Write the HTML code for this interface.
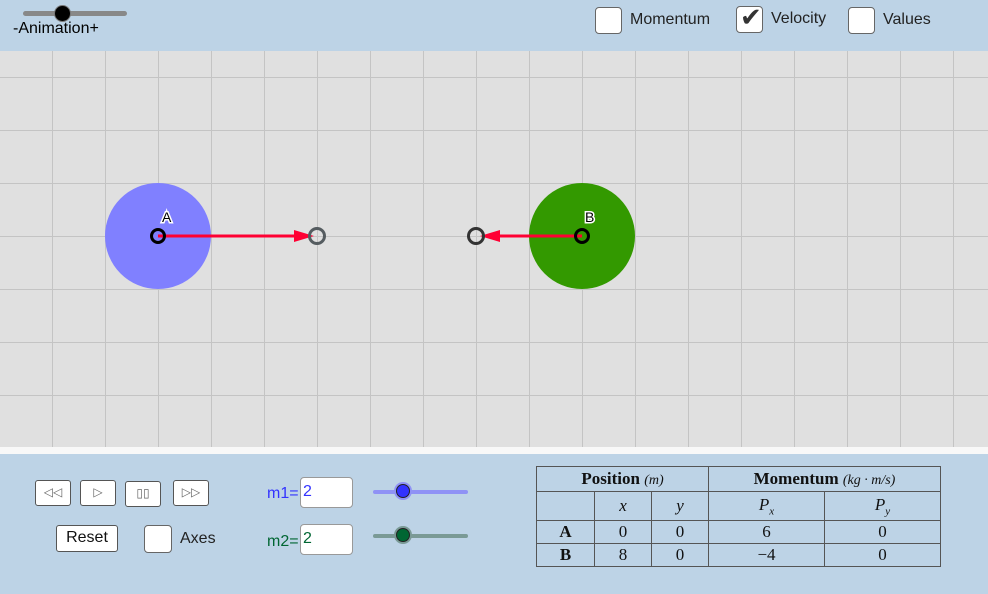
<!DOCTYPE html>
<html><head><meta charset="utf-8"><style>
body{margin:0;width:988px;height:594px;overflow:hidden;background:#bdd3e6;font-family:"Liberation Sans",sans-serif;position:relative}
.a{position:absolute}
.cb{position:absolute;width:24px;height:24px;background:#fff;border:1px solid #666;border-radius:4px;box-sizing:border-box}
.btn{position:absolute;background:#fff;border:1.5px solid #555;border-radius:3px;box-sizing:border-box;text-align:center;color:#666;font-size:12px}
.inp{position:absolute;width:53px;height:31px;background:#fff;border:1px solid #999;border-radius:4px;box-sizing:border-box;font-size:16px;padding:5px 2px}
table{position:absolute;left:536px;top:466px;border-collapse:collapse;font-family:"Liberation Serif",serif;font-size:17px;color:#111}
td{border:1px solid #555;text-align:center;padding:0;height:22px}
</style></head><body>
<div class="a" style="left:23px;top:11px;width:104px;height:5px;background:#888;border-radius:3px"></div>
<div class="a" style="left:54px;top:5px;width:15px;height:15px;background:#000;border:1.5px solid #777;border-radius:50%"></div>
<div class="a" style="left:13px;top:20px;font-size:16px">-Animation+</div>
<div class="cb" style="left:595px;top:7px;width:27px;height:27px"></div>
<div class="a" style="left:630px;top:11px;font-size:16px;color:#222">Momentum</div>
<div class="cb" style="left:736px;top:6px;width:27px;height:27px"></div>
<div class="a" style="left:740px;top:2px;font-size:26px;color:#333">✔</div>
<div class="a" style="left:771px;top:10px;font-size:16px;color:#222">Velocity</div>
<div class="cb" style="left:848px;top:7px;width:27px;height:27px"></div>
<div class="a" style="left:883px;top:11px;font-size:16px;color:#222">Values</div>
<svg class="a" style="left:0;top:51px" width="988" height="403">
<rect width="988" height="396" fill="#e0e0e0"/>
<rect y="396" width="988" height="7" fill="#f8f8f8"/>
<g stroke="#c4c4c4" stroke-width="1">
<path d="M52.5 0V396M105.5 0V396M158.5 0V396M211.5 0V396M264.5 0V396M317.5 0V396M370.5 0V396M423.5 0V396M476.5 0V396M529.5 0V396M582.5 0V396M635.5 0V396M688.5 0V396M741.5 0V396M794.5 0V396M847.5 0V396M900.5 0V396M953.5 0V396"/>
<path d="M0 26.5H988M0 79.5H988M0 132.5H988M0 185.5H988M0 238.5H988M0 291.5H988M0 344.5H988"/>
</g>
<circle cx="158" cy="185" r="53" fill="#8080ff"/>
<circle cx="582" cy="185" r="53" fill="#339900"/>
<line x1="158" y1="185" x2="298" y2="185" stroke="#ff0033" stroke-width="3"/>
<polygon points="294,179 314,185 294,191" fill="#ff0033"/>
<line x1="582" y1="185" x2="496" y2="185" stroke="#ff0033" stroke-width="3"/>
<polygon points="500,179 480,185 500,191" fill="#ff0033"/>
<circle cx="158" cy="185" r="6.5" fill="none" stroke="#000" stroke-width="3"/>
<circle cx="582" cy="185" r="6.5" fill="none" stroke="#000" stroke-width="3"/>
<circle cx="317" cy="185" r="7.5" fill="none" stroke="#555c60" stroke-width="3"/>
<circle cx="476" cy="185" r="7.5" fill="none" stroke="#333" stroke-width="3"/>
<text x="162" y="171" font-size="14" stroke="#fff" stroke-width="3" paint-order="stroke" fill="#000">A</text>
<text x="585" y="171" font-size="14" stroke="#fff" stroke-width="3" paint-order="stroke" fill="#000">B</text>
</svg>
<div class="btn" style="left:35px;top:480px;width:36px;height:26px;line-height:23px">◁◁</div>
<div class="btn" style="left:80px;top:480px;width:36px;height:26px;line-height:23px">▷</div>
<div class="btn" style="left:125px;top:481px;width:36px;height:26px;line-height:23px">▯▯</div>
<div class="btn" style="left:173px;top:480px;width:36px;height:26px;line-height:23px">▷▷</div>
<div class="btn" style="left:56px;top:525px;width:62px;height:27px;line-height:24px;color:#111;font-size:16px">Reset</div>
<div class="cb" style="left:144px;top:525px;width:28px;height:28px"></div>
<div class="a" style="left:180px;top:530px;font-size:16px;color:#222">Axes</div>
<div class="a" style="left:267px;top:485px;font-size:16px;color:#3333ff">m1=</div>
<div class="inp" style="left:300px;top:477px;color:#3333ff">2</div>
<div class="a" style="left:267px;top:533px;font-size:16px;color:#006633">m2=</div>
<div class="inp" style="left:300px;top:524px;color:#006633">2</div>
<div class="a" style="left:373px;top:490px;width:95px;height:4px;background:#8f92f5;border-radius:2px"></div>
<div class="a" style="left:396px;top:484px;width:12px;height:12px;background:#3333ff;border:1px solid #222;border-radius:50%;box-shadow:0 0 0 2px #8f92f5"></div>
<div class="a" style="left:373px;top:534px;width:95px;height:4px;background:#7a9a96;border-radius:2px"></div>
<div class="a" style="left:396px;top:528px;width:12px;height:12px;background:#006633;border:1px solid #222;border-radius:50%;box-shadow:0 0 0 2px #7a9a96"></div>
<table>
<tr style="height:25px"><td colspan="3" style="width:170px"><b>Position</b> <i style="font-size:14px">(m)</i></td><td colspan="2"><b>Momentum</b> <i style="font-size:14px">(kg · m/s)</i></td></tr>
<tr style="height:29px"><td style="width:57px"></td><td style="width:56px"><i>x</i></td><td style="width:56px"><i>y</i></td><td style="width:115px"><i>P<sub style="font-size:11px">x</sub></i></td><td style="width:115px"><i>P<sub style="font-size:11px">y</sub></i></td></tr>
<tr><td><b>A</b></td><td>0</td><td>0</td><td>6</td><td>0</td></tr>
<tr><td><b>B</b></td><td>8</td><td>0</td><td>−4</td><td>0</td></tr>
</table>
</body></html>
